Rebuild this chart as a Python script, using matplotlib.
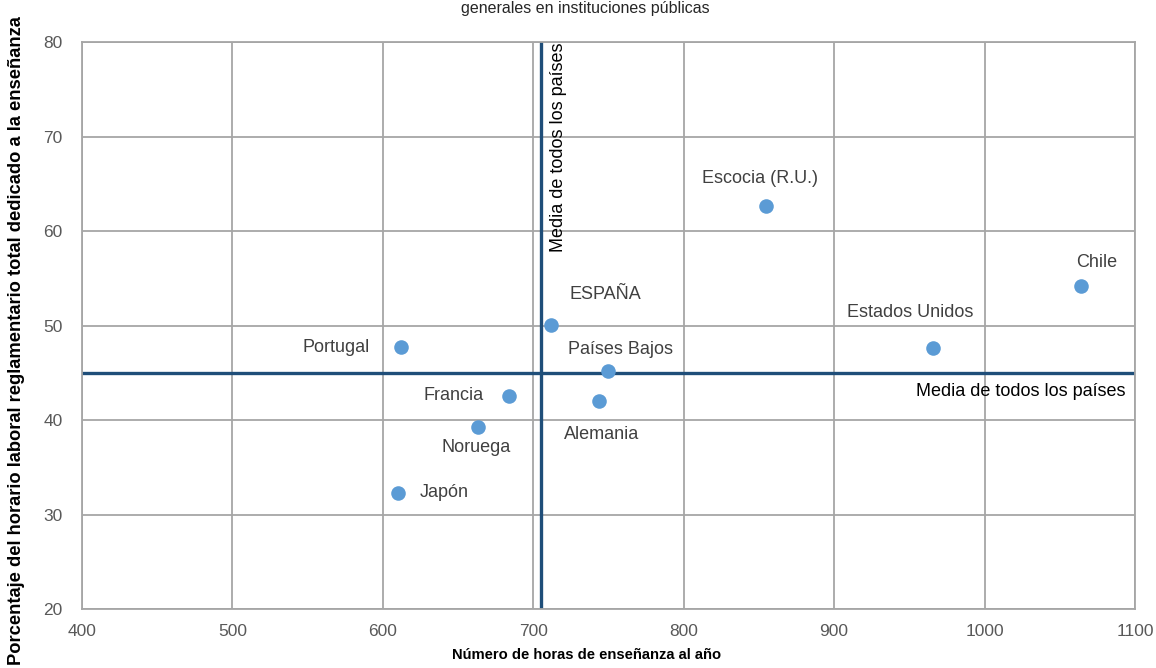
import numpy as np
import matplotlib
matplotlib.use('Agg')
import matplotlib.pyplot as plt

plt.rcParams['font.family'] = ['Liberation Sans', 'DejaVu Sans']

#   Data
countries = ['Portugal', 'ESPAÑA', 'Países Bajos', 'Francia', 'Alemania',
             'Noruega', 'Japón', 'Escocia (R.U.)', 'Estados Unidos', 'Chile']
hours = [612, 712, 750, 684, 744, 663, 610, 855, 966, 1064]
pct = [47.7, 50.1, 45.2, 42.5, 42.0, 39.3, 32.3, 62.7, 47.6, 54.2]
#   label offsets in pixels
offsets = [(-65, 0), (54, 30), (12, 21), (-56, 1), (2, -33),
           (-1, -21), (46, 0), (-6, 27), (-23, 36), (16, 23)]
mean_hours = 705
mean_pct = 45.0

fig = plt.figure(figsize=(11.56, 6.68), dpi=100)
ax = fig.add_axes([0.0709, 0.0883, 0.9109, 0.8487])

grid_col = '#A6A6A6'
ax.set_xlim(400, 1100)
ax.set_ylim(20, 80)
ax.set_xticks(np.arange(400, 1101, 100))
ax.set_yticks(np.arange(20, 81, 10))
ax.grid(True, color=grid_col, linewidth=1.3)
ax.set_axisbelow(True)
for s in ax.spines.values():
    s.set_color(grid_col)
    s.set_linewidth(1.3)
ax.tick_params(length=0, labelsize=12.5, labelcolor='#595959')
ax.tick_params(axis='x', pad=11)
ax.tick_params(axis='y', pad=14)

ax.axvline(mean_hours, color='#1F4E79', linewidth=2.4, zorder=2)
ax.axhline(mean_pct, color='#1F4E79', linewidth=2.4, zorder=2)

ax.scatter(hours, pct, s=110, color='#5B9BD5', zorder=3, linewidths=0)

for name, x, y, off in zip(countries, hours, pct, offsets):
    ax.annotate(name, (x, y), xytext=off, textcoords='offset pixels',
                ha='center', va='center', fontsize=13, color='#404040')

ax.text(1024, 43.0, 'Media de todos los países', ha='center', va='center',
        fontsize=13, color='black')
ax.text(mean_hours + 12, 80, 'Media de todos los países', rotation=90,
        ha='center', va='top', fontsize=13, color='black')

ax.set_xlabel('Número de horas de enseñanza al año', fontsize=10.6,
              fontweight='bold')
ax.xaxis.set_label_coords(0.479, -0.069)
ax.set_ylabel('Porcentaje del horario laboral reglamentario total dedicado a la enseñanza',
              fontsize=13.2, fontweight='bold', va='center')
ax.yaxis.set_label_coords(-0.0617, 0.474)

fig.text(0.506, 0.999, 'generales en instituciones públicas', ha='center',
         va='top', fontsize=11.5, color='#262626')

fig.savefig('out.png', dpi=100)
